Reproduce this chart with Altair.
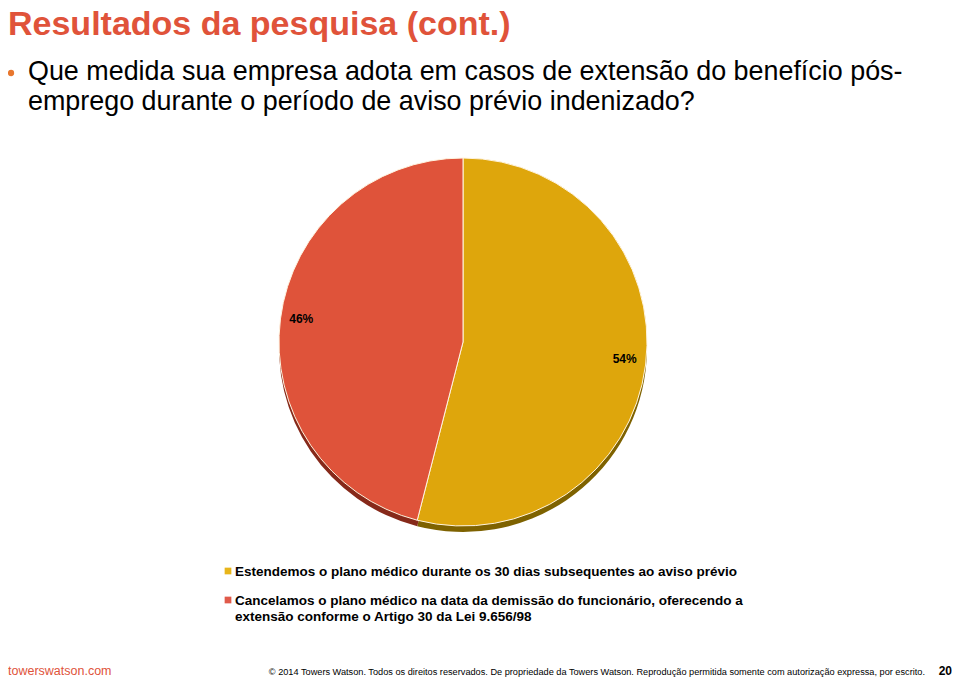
import altair as alt
import pandas as pd

# ---- data ----
categories = [
    "Estendemos o plano médico durante os 30 dias subsequentes ao aviso prévio",
    "Cancelamos o plano médico na data da demissão do funcionário, oferecendo a extensão conforme o Artigo 30 da Lei 9.656/98",
]
values = [54, 46]
labels = ["54%", "46%"]
colors = ["#DEA60C", "#DF533A"]
shadow_colors = ["#7E6200", "#86291A"]
legend_colors = ["#E8B51A", "#E05A4A"]
legend_lines = [
    ["Estendemos o plano médico durante os 30 dias subsequentes ao aviso prévio"],
    ["Cancelamos o plano médico na data da demissão do funcionário, oferecendo a",
     "extensão conforme o Artigo 30 da Lei 9.656/98"],
]
title_text = "Resultados da pesquisa (cont.)"
question_lines = [
    "Que medida sua empresa adota em casos de extensão do benefício pós-",
    "emprego durante o período de aviso prévio indenizado?",
]
footer_site = "towerswatson.com"
footer_copy = ("© 2014 Towers Watson. Todos os direitos reservados. De propriedade da Towers Watson. "
               "Reprodução permitida somente com autorização expressa, por escrito.")
page_number = "20"

df = pd.DataFrame({"cat": categories, "value": values, "label": labels, "order": [0, 1]})

W, H = 944, 671
CX, CY, R = 455, 334, 184
FONT = "Liberation Sans"
RED = "#E0533A"

theta = alt.Theta("value:Q", stack=True)
order = alt.Order("order:Q")

shadow = alt.Chart(df).mark_arc(radius=R).encode(
    theta=theta, order=order,
    fill=alt.Fill("cat:N", scale=alt.Scale(domain=categories, range=shadow_colors), legend=None),
    x=alt.value(CX), y=alt.value(CY + 6),
)
pie = alt.Chart(df).mark_arc(radius=R, stroke="#FFF4E0", strokeWidth=1).encode(
    theta=theta, order=order,
    color=alt.Color("cat:N", scale=alt.Scale(domain=categories, range=colors), legend=None),
    x=alt.value(CX), y=alt.value(CY),
)
pct = alt.Chart(df).mark_text(radius=163, font=FONT, fontSize=12, fontWeight="bold", color="black").encode(
    theta=theta, order=order, text="label:N",
    x=alt.value(CX), y=alt.value(CY - 3),
)


def text_layer(txt, x, y, size, color="black", weight="normal", align="left", baseline="alphabetic"):
    return alt.Chart(pd.DataFrame({"t": [txt]})).mark_text(
        font=FONT, fontSize=size, fontWeight=weight, color=color, align=align, baseline=baseline
    ).encode(text="t:N", x=alt.value(x), y=alt.value(y))


layers = [shadow, pie, pct]

# title & question
layers.append(text_layer(title_text, 0, 27, 34, color=RED, weight="bold"))
layers.append(alt.Chart(pd.DataFrame({"a": [0]})).mark_circle(color="#E8772E", opacity=1, size=40).encode(
    x=alt.value(3), y=alt.value(65)))
layers.append(text_layer(question_lines[0], 20, 72, 26.9))
layers.append(text_layer(question_lines[1], 20, 102, 26.9))

# legend
leg_sq_y = [563, 592]
for i, lines in enumerate(legend_lines):
    layers.append(alt.Chart(pd.DataFrame({"a": [0]})).mark_square(
        color=legend_colors[i], opacity=1, size=45).encode(x=alt.value(220), y=alt.value(leg_sq_y[i])))
    for j, line in enumerate(lines):
        layers.append(text_layer(line, 227, leg_sq_y[i] + 5 + j * 16, 13.5, weight="bold"))

# footer
layers.append(text_layer(footer_site, 0, 667, 12.5, color=RED))
layers.append(text_layer(footer_copy, 917, 667, 9.2, align="right"))
layers.append(text_layer(page_number, 944, 667, 12, weight="bold", align="right"))

chart = alt.layer(*layers).properties(
    width=W, height=H, padding=0,
    autosize=alt.AutoSizeParams(type="none"),
).configure(background="white").configure_view(stroke=None)

chart.save("out.html", embed_options={"renderer": "svg", "actions": False})
